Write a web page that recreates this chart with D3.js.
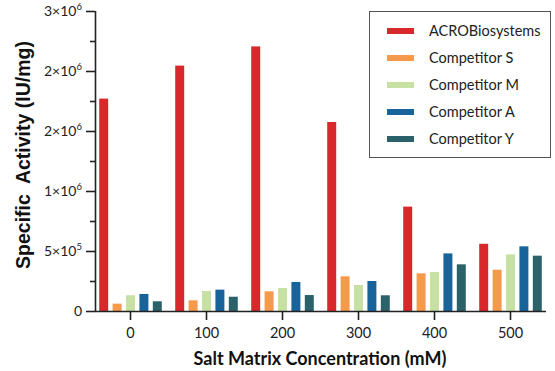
<!DOCTYPE html>
<html>
<head>
<meta charset="utf-8">
<script src="https://cdn.jsdelivr.net/npm/d3@7"></script>
<style>
  body { margin: 0; background: #fff; }
  svg { display: block; }
</style>
</head>
<body>
<div id="chart"></div>
<script>
const width = 555;
const height = 371;

const groups = ["0", "100", "200", "300", "400", "500"];
const seriesNames = ["ACROBiosystems", "Competitor S", "Competitor M", "Competitor A", "Competitor Y"];
const colors = ["#d8282c", "#f59a4b", "#c7e1a5", "#18639a", "#2b6169"];

// specific activity (IU/mg) per salt concentration
const acro = [1770000, 2045000, 2205000, 1575000, 870000, 560000];
const compS = [61000, 89000, 164000, 289000, 314000, 344000];
const compM = [131000, 167000, 192000, 217000, 325000, 472000];
const compA = [142000, 178000, 242000, 250000, 480000, 539000];
const compY = [81000, 119000, 133000, 131000, 389000, 461000];

const yTicks = [0, 500000, 1000000, 1500000, 2000000, 2500000];
const yTickLabels = [["0", ""], ["5×10", "5"], ["1×10", "6"], ["2×10", "6"], ["2×10", "6"], ["3×10", "6"]];

const seriesValues = [acro, compS, compM, compA, compY];

const svg = d3.select("#chart")
  .append("svg")
  .attr("width", width)
  .attr("height", height);

const x0 = d3.scaleBand()
  .domain(groups)
  .range([92.5, 548.5])
  .padding(0);

const x1 = d3.scaleBand()
  .domain(seriesNames)
  .range([4.5, x0.bandwidth() - 4.5])
  .paddingInner(0.33)
  .paddingOuter(0.165);

const y = d3.scaleLinear()
  .domain([0, 2500000])
  .range([311, 11]);

// bars
const groupSel = svg.selectAll(".group")
  .data(groups)
  .join("g")
  .attr("class", "group")
  .attr("transform", (d) => `translate(${x0(d)},0)`);

groupSel.selectAll("rect")
  .data((g, gi) => seriesNames.map((s, si) => ({ s, si, v: seriesValues[si][gi] })))
  .join("rect")
  .attr("x", (d) => x1(d.s))
  .attr("width", x1.bandwidth())
  .attr("y", (d) => y(d.v))
  .attr("height", (d) => y(0) - y(d.v))
  .attr("fill", (d) => colors[d.si]);

// x axis
const xAxis = svg.append("g")
  .attr("transform", `translate(0,${y(0)})`)
  .call(d3.axisBottom(x0).tickSize(9).tickSizeOuter(0).tickPadding(8));
xAxis.select(".domain").attr("d", `M95,0.5H546`).attr("stroke", "#222").attr("stroke-width", 1.6);
xAxis.selectAll(".tick line").attr("stroke", "#222").attr("stroke-width", 1.6);
xAxis.selectAll(".tick text")
  .attr("fill", "#222")
  .style("font-family", "Lato")
  .style("font-size", "14.5px");

// y axis
const yAxis = svg.append("g")
  .attr("transform", "translate(95,0)")
  .call(d3.axisLeft(y).tickValues(d3.range(0, 2500001, 250000)).tickSize(5).tickFormat(""));
yAxis.select(".domain").attr("d", `M0.5,${y(0)}V${y(2500000)}`).attr("stroke", "#222").attr("stroke-width", 1.6);
yAxis.selectAll(".tick line")
  .attr("stroke", "#222")
  .attr("stroke-width", 1.6)
  .attr("x2", (d) => (d % 500000 === 0 ? -9 : -5));

const yLabels = svg.append("g")
  .selectAll("text")
  .data(yTicks)
  .join("text")
  .attr("x", 82)
  .attr("y", (d) => y(d) + 5)
  .attr("text-anchor", "end")
  .attr("fill", "#222")
  .style("font-family", "Lato")
  .style("font-size", "14px");

yLabels.append("tspan").text((d, i) => yTickLabels[i][0]);
yLabels.append("tspan")
  .attr("dy", -6)
  .style("font-size", "9.5px")
  .text((d, i) => yTickLabels[i][1]);

// axis titles
svg.append("text")
  .attr("transform", "translate(30,155) rotate(-90)")
  .attr("text-anchor", "middle")
  .attr("fill", "#111")
  .style("font-family", "Liberation Sans, Arial, sans-serif")
  .style("font-weight", "bold")
  .style("font-size", "19.5px")
  .style("white-space", "pre")
  .text("Specific  Activity (IU/mg)");

svg.append("text")
  .attr("x", 320)
  .attr("y", 365)
  .attr("text-anchor", "middle")
  .attr("fill", "#111")
  .style("font-family", "Lato")
  .style("font-weight", "bold")
  .style("font-size", "18px")
  .text("Salt Matrix Concentration (mM)");

// legend
const legend = svg.append("g");
legend.append("rect")
  .attr("x", 369.5)
  .attr("y", 11.5)
  .attr("width", 181)
  .attr("height", 146)
  .attr("fill", "#fff")
  .attr("stroke", "#555")
  .attr("stroke-width", 1);

const legendY = d3.scalePoint()
  .domain(seriesNames)
  .range([31, 139]);

const items = legend.selectAll(".item")
  .data(seriesNames)
  .join("g")
  .attr("class", "item")
  .attr("transform", (d) => `translate(0,${legendY(d)})`);

items.append("rect")
  .attr("x", 387)
  .attr("y", -3)
  .attr("width", 27)
  .attr("height", 6)
  .attr("fill", (d, i) => colors[i]);

items.append("text")
  .attr("x", 429)
  .attr("y", 5)
  .attr("fill", "#222")
  .style("font-family", "Lato")
  .style("font-size", "14.5px")
  .text((d) => d);
</script>
</body>
</html>
